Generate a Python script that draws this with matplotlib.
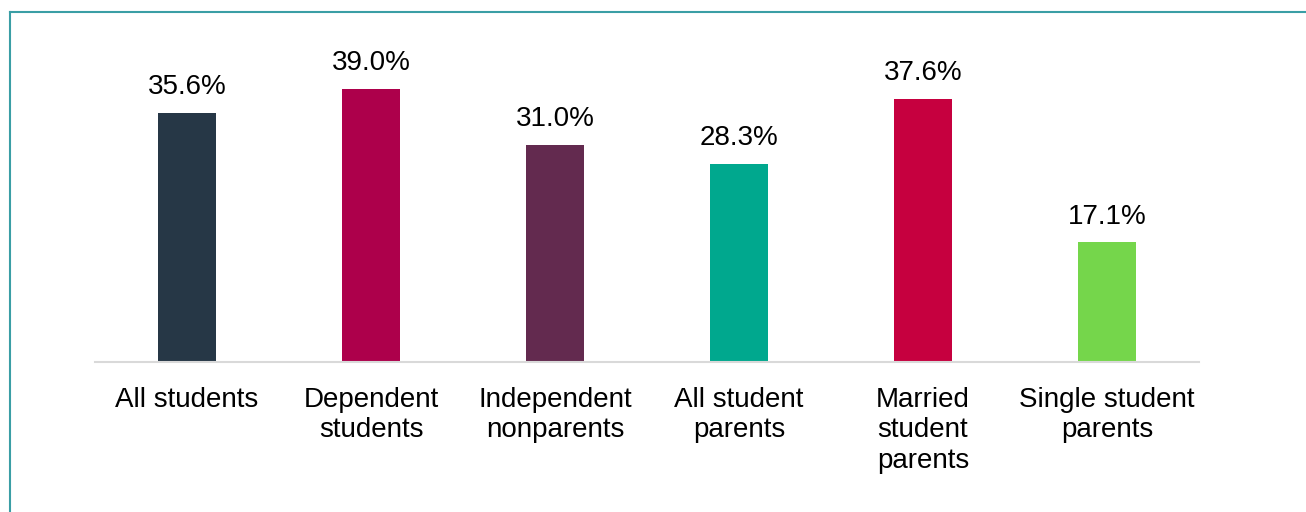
import matplotlib.pyplot as plt
from matplotlib.lines import Line2D

categories = ['All students', 'Dependent\nstudents', 'Independent\nnonparents',
              'All student\nparents', 'Married\nstudent\nparents', 'Single student\nparents']
values = [35.6, 39.0, 31.0, 28.3, 37.6, 17.1]
colors = ['#263746', '#ad004b', '#632a4f', '#00a88e', '#c6003f', '#75d64b']

plt.rcParams['font.family'] = ['Liberation Sans', 'DejaVu Sans']

W, H = 1306, 512
fig = plt.figure(figsize=(W / 100, H / 100), dpi=100)
ax = fig.add_axes([95 / W, 1 - 362 / H, 1104 / W, 342 / H])

x = range(len(values))
bars = ax.bar(x, values, width=0.315, color=colors)
for b, v in zip(bars, values):
    ax.annotate(f'{v:.1f}%', (b.get_x() + b.get_width() / 2, v),
                xytext=(0, 9), textcoords='offset points',
                ha='center', va='bottom', fontsize=20)

ax.set_xlim(-0.5, len(values) - 0.5)
ax.set_ylim(0, 342 / 7.0)
ax.set_xticks(list(x))
ax.set_xticklabels(categories, fontsize=20, linespacing=1.22, va='top')
ax.tick_params(axis='x', length=0, pad=18)
ax.set_yticks([])
for s in ['top', 'right', 'left']:
    ax.spines[s].set_visible(False)
ax.spines['bottom'].set_color('#d9d9d9')
ax.spines['bottom'].set_linewidth(1.5)

# frame lines along the top and left edge
fig.add_artist(Line2D([9.5 / W, 1], [1 - 11.5 / H, 1 - 11.5 / H], color='#3a9ea5', lw=1.5))
fig.add_artist(Line2D([9.5 / W, 9.5 / W], [0, 1 - 11.5 / H], color='#3a9ea5', lw=1.5))

fig.savefig('out.png', dpi=100)
